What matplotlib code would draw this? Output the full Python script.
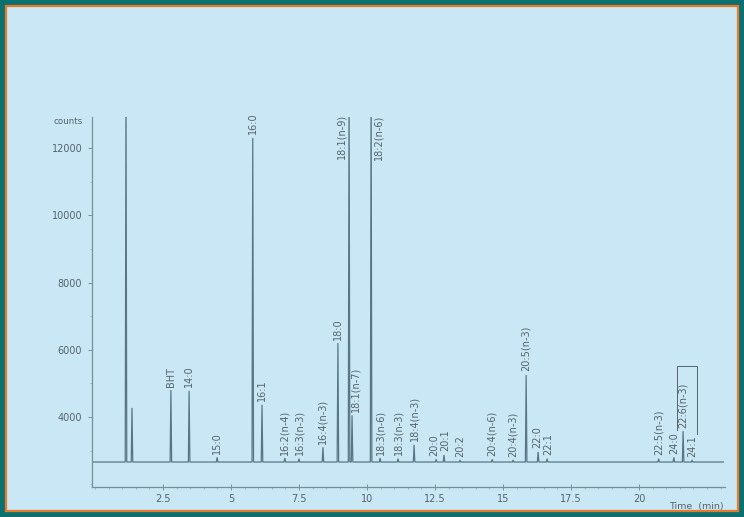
"""GC-FID chromatogram of fatty acid methyl esters (counts vs. retention time)."""
import numpy as np
import matplotlib
matplotlib.use("Agg")
import matplotlib.pyplot as plt
from matplotlib.patches import Rectangle
from matplotlib.ticker import MultipleLocator

# peak table: retention time (min), apex height (counts), label
peak_rt = [1.14, 1.36, 2.79, 3.46, 4.49, 5.80, 6.14, 6.98, 7.50, 8.38,
           8.93, 9.34, 9.45, 10.15, 10.48, 11.14, 11.73, 12.54, 12.83, 13.42,
           14.60, 15.37, 15.85, 16.29, 16.62, 20.72, 21.28, 21.62, 21.95]
peak_height = [14000, 4270, 4800, 4780, 2800, 12300, 4360, 2780, 2760, 3100,
               6200, 14000, 4050, 14000, 2780, 2760, 3170, 2740, 2870, 2720,
               2740, 2720, 5250, 2960, 2760, 2760, 2800, 3580, 2720]
peak_name = ["", "", "BHT", "14:0", "15:0", "16:0", "16:1", "16:2(n-4)", "16:3(n-3)", "16:4(n-3)",
             "18:0", "18:1(n-9)", "18:1(n-7)", "18:2(n-6)", "18:3(n-6)", "18:3(n-3)", "18:4(n-3)",
             "20:0", "20:1", "20:2", "20:4(n-6)", "20:4(n-3)", "20:5(n-3)", "22:0", "22:1",
             "22:5(n-3)", "24:0", "22:6(n-3)", "24:1"]
baseline = 2660
run_end = 23.1

x_ticks = [2.5, 5, 7.5, 10, 12.5, 15, 17.5, 20]
x_ticklabels = ["2.5", "5", "7.5", "10", "12.5", "15", "17.5", "20"]
y_ticks = [4000, 6000, 8000, 10000, 12000]

INK = "#56646c"
TRACE = "#5a7684"
PAPER = "#c9e7f4"

fig = plt.figure(figsize=(7.44, 5.17), dpi=100)
fig.patch.set_facecolor("#0b706f")
panel = Rectangle((6 / 744, 1 - 511 / 517), 732 / 744, 505 / 517,
                  transform=fig.transFigure, facecolor=PAPER,
                  edgecolor="#e9792a", linewidth=1.6, zorder=-10)
fig.add_artist(panel)

ax = fig.add_axes([92 / 744, 1 - 487 / 517, 633 / 744, 370 / 517])
ax.set_facecolor("none")
ax.set_zorder(5)

# trace: flat baseline with a narrow triangle for each peak
hw = 0.028
xs, ys = [-0.1], [baseline]
for rt, h in zip(peak_rt, peak_height):
    xs += [rt - hw, rt, rt + hw]
    ys += [baseline, h, baseline]
xs.append(run_end)
ys.append(baseline)
ax.plot(xs, ys, color=TRACE, lw=0.9, solid_joinstyle="miter", clip_on=True)

ax.set_xlim(-0.11, 23.16)
ax.set_ylim(1917, 12923)

# peak labels, written vertically above each apex
label_shift = {"18:1(n-9)": -5.8, "18:2(n-6)": 5.0, "18:1(n-7)": 2.8,
               "20:0": -1.6, "20:1": 1.2, "22:0": -0.8, "22:1": 0.8}
for rt, h, name in zip(peak_rt, peak_height, peak_name):
    if not name:
        continue
    dx = label_shift.get(name, 0)
    if h > 13000:
        ax.annotate(name, xy=(rt, 12330), xytext=(dx, 0), textcoords="offset points",
                    rotation=90, ha="center", va="center", fontsize=7.0, color=INK,
                    annotation_clip=False)
    else:
        ax.annotate(name, xy=(rt, h), xytext=(dx, 2.5), textcoords="offset points",
                    rotation=90, ha="center", va="bottom", fontsize=7.0, color=INK,
                    annotation_clip=False)

# open box around the 22:6(n-3) label
i = peak_name.index("22:6(n-3)")
bx0, bx1 = peak_rt[i] - 0.22, peak_rt[i] + 0.5
by0, by1 = peak_height[i] + 20, peak_height[i] + 1950
ax.plot([bx0, bx0, bx1, bx1], [by0, by1, by1, by0 - 120], color=INK, lw=0.7)

for side in ("top", "right"):
    ax.spines[side].set_visible(False)
for side in ("left", "bottom"):
    ax.spines[side].set_color("#78909c")
    ax.spines[side].set_linewidth(0.9)

ax.set_xticks(x_ticks)
ax.set_xticklabels(x_ticklabels)
ax.set_yticks(y_ticks)
ax.xaxis.set_minor_locator(MultipleLocator(0.5))
ax.yaxis.set_minor_locator(MultipleLocator(1000))
ax.tick_params(axis="both", which="major", colors="#78909c", labelcolor=INK,
               labelsize=7, length=3, width=0.7)
ax.tick_params(axis="x", which="major", direction="inout", length=4, pad=3)
ax.tick_params(axis="y", which="major", pad=4)
ax.tick_params(which="minor", colors="#8aa2ad", length=1.5, width=0.5)

ax.annotate("counts", xy=(0, 12800), xycoords=("axes fraction", "data"),
            xytext=(-7, 0), textcoords="offset points", ha="right", va="center",
            fontsize=6.3, color=INK, annotation_clip=False)
ax.annotate("Time  (min)", xy=(22.1, 0), xycoords=("data", "axes fraction"),
            xytext=(0, -14), textcoords="offset points", ha="center", va="center",
            fontsize=6.8, color=INK, annotation_clip=False)

fig.savefig("out.png", dpi=100, facecolor=fig.get_facecolor())
